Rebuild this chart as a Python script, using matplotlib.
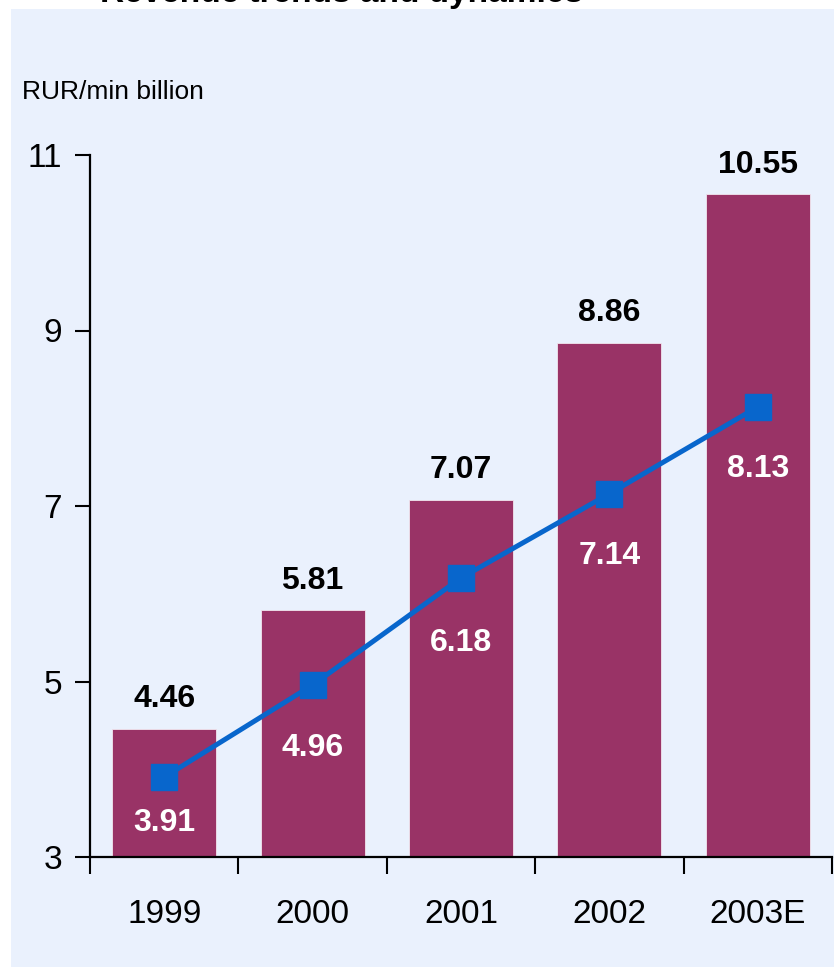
import numpy as np
import matplotlib.pyplot as plt
from matplotlib.patches import Rectangle

plt.rcParams["font.family"] = ["Liberation Sans", "DejaVu Sans"]

years = ["1999", "2000", "2001", "2002", "2003E"]
bar_values = [4.46, 5.81, 7.07, 8.86, 10.55]
line_values = [3.91, 4.96, 6.18, 7.14, 8.13]
y_ticks = [3, 5, 7, 9, 11]

bar_color = "#993366"
line_color = "#0866CC"
panel_color = "#EAF1FD"
# how far the white line labels sit below their markers (data units)
label_drop = [0.52, 0.72, 0.74, 0.71, 0.71]

fig = plt.figure(figsize=(8.34, 9.67), dpi=100)
fig.patches.append(Rectangle((11 / 834, 0), 1, 1 - 9 / 967, transform=fig.transFigure,
                             facecolor=panel_color, edgecolor="none", zorder=-5))
# title sits mostly above the crop, only its lower edge shows
fig.text(100 / 834, 1 - 2 / 967, "Revenue trends and dynamics", fontsize=24,
         fontweight="bold", ha="left", va="baseline")

ax = fig.add_axes([90 / 834, 110 / 967, 742 / 834, 702 / 967])
ax.set_facecolor("none")

x = np.arange(len(years))
ax.bar(x, bar_values, width=0.70, bottom=0, color=bar_color,
       edgecolor="#F2E6EE", linewidth=0.6, zorder=2)
ax.plot(x, line_values, color=line_color, lw=3.6, marker="s", markersize=18.5,
        markerfacecolor=line_color, markeredgecolor=line_color, zorder=3)

for xi, v in zip(x, bar_values):
    ax.text(xi, v + 0.17, f"{v:.2f}", ha="center", va="bottom", fontsize=23,
            fontweight="bold", color="black")
for xi, v, d in zip(x, line_values, label_drop):
    ax.text(xi, v - d, f"{v:.2f}", ha="center", va="center", fontsize=23,
            fontweight="bold", color="white", zorder=4)

ax.set_xlim(-0.5, len(years) - 0.5)
ax.set_ylim(3, 11)
ax.set_yticks(y_ticks)
ax.set_yticklabels([str(t) for t in y_ticks], fontsize=24)
ax.set_xticks(np.arange(len(years) + 1) - 0.5)
ax.set_xticklabels([])
ax.set_xticks(x, minor=True)
ax.set_xticklabels(years, minor=True, fontsize=24)
ax.tick_params(axis="x", which="major", direction="out", length=12, width=1.5)
ax.tick_params(axis="x", which="minor", length=0, pad=30)
ax.tick_params(axis="y", direction="out", length=11, width=1.5, pad=9)

for side in ["top", "right"]:
    ax.spines[side].set_visible(False)
for side in ["left", "bottom"]:
    ax.spines[side].set_linewidth(1.6)

fig.text(22 / 834, 1 - 92 / 967, "RUR/min billion", fontsize=19, ha="left", va="center")

fig.savefig("out.png", dpi=100)
